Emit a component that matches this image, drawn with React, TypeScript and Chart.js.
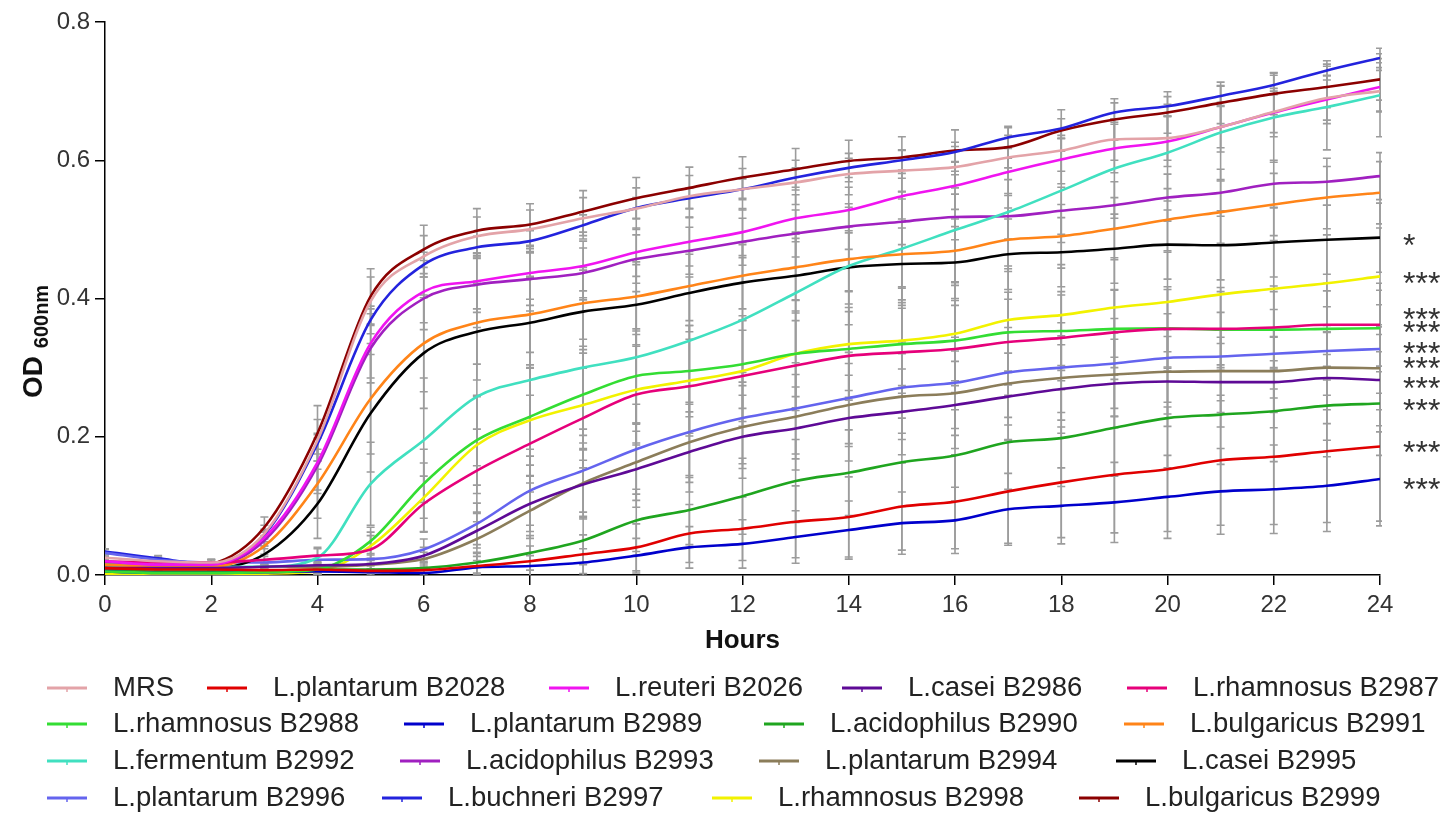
import React, { useEffect, useRef } from "react";
import { Chart, registerables } from "chart.js";

Chart.register(...registerables);

const FONT = '"Liberation Sans", Arial, Helvetica, sans-serif';

// ---- data ----
const hours = [0, 1, 2, 3, 4, 5, 6, 7, 8, 9, 10, 11, 12, 13, 14, 15, 16, 17, 18, 19, 20, 21, 22, 23, 24];

const seriesLabels = [
  "MRS",
  "L.plantarum B2028",
  "L.reuteri B2026",
  "L.casei B2986",
  "L.rhamnosus B2987",
  "L.rhamnosus B2988",
  "L.plantarum B2989",
  "L.acidophilus B2990",
  "L.bulgaricus B2991",
  "L.fermentum B2992",
  "L.acidophilus B2993",
  "L.plantarum B2994",
  "L.casei B2995",
  "L.plantarum B2996",
  "L.buchneri B2997",
  "L.rhamnosus B2998",
  "L.bulgaricus B2999",
];

const seriesColors = [
  "#E3A3A8",
  "#E00000",
  "#F014F0",
  "#5E0A96",
  "#E6007A",
  "#33DD33",
  "#0000CC",
  "#1FA51F",
  "#FF8418",
  "#40E0C0",
  "#A020C0",
  "#8B7D5A",
  "#000000",
  "#6464EE",
  "#2323DD",
  "#F2F200",
  "#8B0000",
];

const mrs = [0.025, 0.02, 0.018, 0.06, 0.195, 0.396, 0.461, 0.49, 0.5, 0.516, 0.53, 0.548, 0.558, 0.568, 0.58, 0.585, 0.59, 0.604, 0.614, 0.63, 0.632, 0.648, 0.67, 0.69, 0.7];
const b2028 = [0.01, 0.008, 0.008, 0.007, 0.008, 0.006, 0.007, 0.013, 0.02, 0.03, 0.04, 0.06, 0.067, 0.077, 0.084, 0.099, 0.106, 0.121, 0.134, 0.145, 0.153, 0.166, 0.171, 0.179, 0.186];
const b2026 = [0.02, 0.015, 0.015, 0.054, 0.163, 0.335, 0.41, 0.425, 0.437, 0.447, 0.467, 0.482, 0.496, 0.516, 0.528, 0.548, 0.563, 0.583, 0.601, 0.617, 0.627, 0.648, 0.669, 0.688, 0.706];
const b2986 = [0.01, 0.01, 0.01, 0.012, 0.014, 0.016, 0.028, 0.064, 0.103, 0.131, 0.153, 0.178, 0.2, 0.212, 0.227, 0.236, 0.246, 0.258, 0.269, 0.277, 0.28, 0.279, 0.279, 0.285, 0.282];
const b2987 = [0.02, 0.018, 0.018, 0.022, 0.028, 0.037, 0.103, 0.151, 0.19, 0.227, 0.261, 0.273, 0.288, 0.303, 0.317, 0.322, 0.327, 0.337, 0.343, 0.351, 0.356, 0.356, 0.358, 0.362, 0.362];
const b2988 = [0.005, 0.003, 0.003, 0.004, 0.008, 0.049, 0.132, 0.195, 0.229, 0.261, 0.288, 0.295, 0.305, 0.32, 0.327, 0.334, 0.339, 0.351, 0.353, 0.356, 0.357, 0.355, 0.355, 0.356, 0.357];
const b2989 = [0.005, 0.003, 0.003, 0.004, 0.005, 0.004, 0.003, 0.011, 0.013, 0.018, 0.028, 0.04, 0.045, 0.055, 0.065, 0.075, 0.079, 0.095, 0.1, 0.105, 0.113, 0.121, 0.124, 0.129, 0.139];
const b2990 = [0.008, 0.005, 0.005, 0.006, 0.008, 0.008, 0.01, 0.018, 0.032, 0.05, 0.079, 0.094, 0.114, 0.136, 0.148, 0.163, 0.173, 0.192, 0.198, 0.213, 0.227, 0.232, 0.237, 0.245, 0.248];
const b2991 = [0.015, 0.012, 0.012, 0.042, 0.132, 0.255, 0.335, 0.365, 0.377, 0.393, 0.403, 0.418, 0.433, 0.445, 0.457, 0.464, 0.469, 0.485, 0.49, 0.501, 0.514, 0.525, 0.536, 0.546, 0.553];
const b2992 = [0.015, 0.012, 0.012, 0.012, 0.025, 0.132, 0.195, 0.258, 0.282, 0.3, 0.315, 0.339, 0.369, 0.408, 0.447, 0.472, 0.499, 0.525, 0.556, 0.588, 0.611, 0.64, 0.662, 0.677, 0.694];
const b2993 = [0.018, 0.014, 0.014, 0.05, 0.158, 0.328, 0.4, 0.42, 0.428, 0.437, 0.457, 0.469, 0.482, 0.494, 0.504, 0.511, 0.518, 0.519, 0.527, 0.535, 0.546, 0.553, 0.566, 0.569, 0.577];
const b2994 = [0.012, 0.01, 0.01, 0.012, 0.012, 0.015, 0.023, 0.052, 0.093, 0.133, 0.163, 0.192, 0.214, 0.229, 0.246, 0.258, 0.263, 0.277, 0.285, 0.29, 0.294, 0.295, 0.295, 0.3, 0.299];
const b2995 = [0.012, 0.01, 0.01, 0.03, 0.103, 0.234, 0.321, 0.352, 0.365, 0.381, 0.391, 0.408, 0.423, 0.433, 0.445, 0.45, 0.452, 0.464, 0.467, 0.472, 0.478, 0.477, 0.481, 0.485, 0.488];
const b2996 = [0.032, 0.022, 0.018, 0.018, 0.022, 0.023, 0.037, 0.074, 0.122, 0.151, 0.182, 0.207, 0.227, 0.241, 0.256, 0.271, 0.278, 0.293, 0.3, 0.306, 0.314, 0.316, 0.32, 0.324, 0.327];
const b2997 = [0.034, 0.024, 0.016, 0.058, 0.19, 0.369, 0.449, 0.474, 0.483, 0.506, 0.531, 0.545, 0.558, 0.575, 0.589, 0.6, 0.612, 0.633, 0.646, 0.669, 0.678, 0.693, 0.709, 0.73, 0.748];
const b2998 = [0.002, 0.0, 0.0, 0.002, 0.005, 0.042, 0.112, 0.188, 0.224, 0.246, 0.268, 0.281, 0.295, 0.32, 0.334, 0.339, 0.349, 0.369, 0.376, 0.387, 0.395, 0.406, 0.414, 0.422, 0.432];
const b2999 = [0.008, 0.01, 0.016, 0.069, 0.205, 0.403, 0.471, 0.498, 0.507, 0.526, 0.545, 0.56, 0.575, 0.587, 0.599, 0.604, 0.614, 0.619, 0.643, 0.659, 0.669, 0.683, 0.696, 0.706, 0.717];

// standard deviations (error bars)
const mrsSd = [0.004, 0.004, 0.004, 0.012, 0.03, 0.035, 0.03, 0.028, 0.028, 0.03, 0.03, 0.03, 0.03, 0.032, 0.03, 0.03, 0.03, 0.032, 0.03, 0.03, 0.032, 0.03, 0.03, 0.032, 0.03];
const b2028Sd = [0.004, 0.004, 0.004, 0.005, 0.006, 0.008, 0.012, 0.018, 0.022, 0.028, 0.034, 0.042, 0.046, 0.052, 0.058, 0.063, 0.068, 0.075, 0.08, 0.084, 0.09, 0.094, 0.098, 0.103, 0.108];
const b2026Sd = [0.004, 0.004, 0.004, 0.012, 0.04, 0.05, 0.045, 0.04, 0.038, 0.036, 0.035, 0.035, 0.034, 0.034, 0.033, 0.033, 0.034, 0.034, 0.035, 0.035, 0.036, 0.036, 0.035, 0.035, 0.035];
const b2986Sd = [0.003, 0.003, 0.003, 0.004, 0.005, 0.008, 0.012, 0.025, 0.04, 0.05, 0.055, 0.058, 0.06, 0.06, 0.062, 0.062, 0.063, 0.063, 0.064, 0.064, 0.065, 0.065, 0.066, 0.066, 0.066];
const b2987Sd = [0.006, 0.005, 0.005, 0.008, 0.01, 0.02, 0.04, 0.06, 0.07, 0.072, 0.07, 0.068, 0.066, 0.065, 0.064, 0.064, 0.063, 0.062, 0.062, 0.062, 0.061, 0.06, 0.06, 0.06, 0.06];
const b2988Sd = [0.003, 0.003, 0.003, 0.004, 0.006, 0.02, 0.05, 0.065, 0.07, 0.07, 0.068, 0.066, 0.064, 0.062, 0.06, 0.06, 0.058, 0.058, 0.057, 0.056, 0.056, 0.055, 0.055, 0.055, 0.055];
const b2989Sd = [0.003, 0.003, 0.003, 0.003, 0.004, 0.004, 0.005, 0.01, 0.015, 0.02, 0.025, 0.03, 0.035, 0.038, 0.042, 0.045, 0.048, 0.052, 0.055, 0.058, 0.06, 0.062, 0.064, 0.066, 0.068];
const b2990Sd = [0.003, 0.003, 0.003, 0.004, 0.004, 0.005, 0.008, 0.015, 0.025, 0.035, 0.045, 0.05, 0.055, 0.06, 0.062, 0.064, 0.066, 0.068, 0.07, 0.07, 0.072, 0.072, 0.073, 0.074, 0.075];
const b2991Sd = [0.005, 0.004, 0.004, 0.015, 0.05, 0.08, 0.07, 0.06, 0.055, 0.052, 0.05, 0.05, 0.048, 0.048, 0.047, 0.047, 0.046, 0.046, 0.046, 0.045, 0.045, 0.045, 0.045, 0.045, 0.045];
const b2992Sd = [0.005, 0.004, 0.004, 0.004, 0.015, 0.06, 0.09, 0.1, 0.1, 0.098, 0.095, 0.092, 0.09, 0.088, 0.085, 0.082, 0.08, 0.078, 0.075, 0.072, 0.07, 0.068, 0.065, 0.062, 0.06];
const b2993Sd = [0.004, 0.004, 0.004, 0.012, 0.04, 0.05, 0.045, 0.04, 0.038, 0.036, 0.035, 0.034, 0.034, 0.034, 0.033, 0.033, 0.033, 0.033, 0.034, 0.034, 0.034, 0.034, 0.034, 0.034, 0.034];
const b2994Sd = [0.003, 0.003, 0.003, 0.003, 0.004, 0.006, 0.01, 0.025, 0.04, 0.05, 0.055, 0.058, 0.06, 0.061, 0.06, 0.062, 0.061, 0.06, 0.061, 0.06, 0.061, 0.06, 0.06, 0.061, 0.06];
const b2995Sd = [0.004, 0.004, 0.004, 0.012, 0.05, 0.085, 0.08, 0.07, 0.065, 0.06, 0.058, 0.056, 0.055, 0.054, 0.053, 0.052, 0.052, 0.051, 0.05, 0.05, 0.05, 0.05, 0.05, 0.05, 0.05];
const b2996Sd = [0.005, 0.004, 0.004, 0.004, 0.005, 0.008, 0.015, 0.03, 0.05, 0.06, 0.065, 0.066, 0.066, 0.066, 0.066, 0.066, 0.066, 0.065, 0.065, 0.065, 0.064, 0.064, 0.064, 0.064, 0.064];
const b2997Sd = [0.004, 0.004, 0.003, 0.006, 0.015, 0.02, 0.018, 0.016, 0.015, 0.015, 0.015, 0.015, 0.015, 0.014, 0.014, 0.014, 0.014, 0.014, 0.014, 0.014, 0.014, 0.014, 0.014, 0.014, 0.014];
const b2998Sd = [0.002, 0.002, 0.002, 0.002, 0.004, 0.02, 0.05, 0.07, 0.08, 0.08, 0.08, 0.08, 0.08, 0.078, 0.077, 0.076, 0.075, 0.074, 0.073, 0.072, 0.072, 0.071, 0.07, 0.07, 0.07];
const b2999Sd = [0.004, 0.004, 0.004, 0.015, 0.04, 0.04, 0.035, 0.032, 0.03, 0.03, 0.03, 0.03, 0.03, 0.03, 0.03, 0.03, 0.03, 0.03, 0.03, 0.03, 0.03, 0.03, 0.03, 0.03, 0.03];

const seriesValues = [mrs, b2028, b2026, b2986, b2987, b2988, b2989, b2990, b2991, b2992, b2993, b2994, b2995, b2996, b2997, b2998, b2999];
const seriesSd = [mrsSd, b2028Sd, b2026Sd, b2986Sd, b2987Sd, b2988Sd, b2989Sd, b2990Sd, b2991Sd, b2992Sd, b2993Sd, b2994Sd, b2995Sd, b2996Sd, b2997Sd, b2998Sd, b2999Sd];

// significance annotations at the right edge
const starValues = [0.488, 0.432, 0.38, 0.361, 0.332, 0.309, 0.28, 0.249, 0.188, 0.135];
const starLabels = ["*", "***", "***", "***", "***", "***", "***", "***", "***", "***"];

const xTicksStep = 2;
const yTicksStep = 0.2;

// legend layout: row index and text x position for each series
const legendRows = [0, 0, 0, 0, 0, 1, 1, 1, 1, 2, 2, 2, 2, 3, 3, 3, 3];
const legendTextX = [113, 273, 615, 908, 1193, 113, 470, 830, 1190, 113, 466, 825, 1182, 113, 448, 778, 1145];
const legendRowY = [688, 724, 761, 798];

export default function App() {
  const canvasRef = useRef<HTMLCanvasElement | null>(null);

  useEffect(() => {
    const canvas = canvasRef.current;
    if (!canvas) return;

    const datasets = seriesLabels.map((label, k) => ({
      label,
      data: hours.map((h, i) => ({ x: h, y: seriesValues[k][i] })),
      borderColor: seriesColors[k],
      backgroundColor: seriesColors[k],
      borderWidth: 2.6,
      pointRadius: 0,
      pointHoverRadius: 0,
      cubicInterpolationMode: "monotone" as const,
      fill: false,
    }));

    const errorBars = {
      id: "errorBars",
      beforeDatasetsDraw(chart: any) {
        const { ctx, chartArea, scales } = chart;
        const xs = scales.x;
        const ys = scales.y;
        ctx.save();
        ctx.beginPath();
        ctx.rect(chartArea.left, chartArea.top - 2, chartArea.right - chartArea.left + 2, chartArea.bottom - chartArea.top + 2);
        ctx.clip();
        ctx.strokeStyle = "#9C9C9C";
        ctx.lineWidth = 1.6;
        seriesValues.forEach((vals, k) => {
          const sds = seriesSd[k];
          vals.forEach((v, i) => {
            const x = xs.getPixelForValue(hours[i]);
            const yt = ys.getPixelForValue(v + sds[i]);
            const yb = ys.getPixelForValue(v - sds[i]);
            ctx.beginPath();
            ctx.moveTo(x, yt);
            ctx.lineTo(x, yb);
            ctx.moveTo(x - 4, yt);
            ctx.lineTo(x + 4, yt);
            ctx.moveTo(x - 4, yb);
            ctx.lineTo(x + 4, yb);
            ctx.stroke();
          });
        });
        ctx.restore();
      },
    };

    const decor = {
      id: "decor",
      afterDraw(chart: any) {
        const { ctx, chartArea, scales } = chart;
        const ys = scales.y;
        ctx.save();

        // x axis title
        ctx.fillStyle = "#111";
        ctx.font = `bold 26px ${FONT}`;
        ctx.textAlign = "center";
        ctx.textBaseline = "middle";
        ctx.fillText("Hours", (chartArea.left + chartArea.right) / 2, 641);

        // y axis title with subscript
        ctx.save();
        ctx.translate(42, 398);
        ctx.rotate(-Math.PI / 2);
        ctx.textAlign = "left";
        ctx.textBaseline = "alphabetic";
        ctx.font = `bold 28px ${FONT}`;
        ctx.fillText("OD", 0, 0);
        const w = ctx.measureText("OD ").width;
        ctx.font = `bold 20px ${FONT}`;
        ctx.fillText("600nm", w, 6);
        ctx.restore();

        // significance stars
        ctx.fillStyle = "#333";
        ctx.font = `32px ${FONT}`;
        ctx.textAlign = "left";
        ctx.textBaseline = "alphabetic";
        starValues.forEach((v, i) => {
          const y = ys.getPixelForValue(v);
          ctx.fillText(starLabels[i], 1403, y + 18);
        });

        // legend
        ctx.font = `27.5px ${FONT}`;
        ctx.textBaseline = "middle";
        seriesLabels.forEach((label, k) => {
          const y = legendRowY[legendRows[k]];
          const tx = legendTextX[k];
          const sx = tx - 66;
          ctx.strokeStyle = seriesColors[k];
          ctx.lineWidth = 3;
          ctx.beginPath();
          ctx.moveTo(sx, y);
          ctx.lineTo(sx + 40, y);
          ctx.stroke();
          ctx.lineWidth = 1.5;
          ctx.beginPath();
          ctx.moveTo(sx + 20, y);
          ctx.lineTo(sx + 20, y + 4);
          ctx.stroke();
          ctx.fillStyle = "#222";
          ctx.fillText(label, tx, y);
        });

        ctx.restore();
      },
    };

    const chart = new Chart(canvas, {
      type: "line",
      data: { datasets },
      options: {
        animation: false,
        responsive: true,
        maintainAspectRatio: false,
        layout: { padding: { left: 0, right: 67, top: 22, bottom: 195 } },
        plugins: {
          legend: { display: false },
          tooltip: { enabled: false },
        },
        scales: {
          x: {
            type: "linear",
            min: 0,
            max: 24,
            ticks: {
              stepSize: xTicksStep,
              color: "#333",
              font: { family: FONT, size: 24 },
              padding: 6,
              maxRotation: 0,
            },
            grid: { drawOnChartArea: false, drawTicks: true, tickLength: 10, color: "#000", lineWidth: 1.5 },
            border: { display: true, color: "#000", width: 1.5 },
            afterFit: (s: any) => {
              s.height = 60;
            },
          },
          y: {
            type: "linear",
            min: 0,
            max: 0.8,
            ticks: {
              stepSize: yTicksStep,
              color: "#333",
              font: { family: FONT, size: 24 },
              padding: 5,
              callback: (v: any) => Number(v).toFixed(1),
            },
            grid: { drawOnChartArea: false, drawTicks: true, tickLength: 10, color: "#000", lineWidth: 1.5 },
            border: { display: true, color: "#000", width: 1.5 },
            afterFit: (s: any) => {
              s.width = 105;
            },
          },
        },
      },
      plugins: [errorBars, decor],
    } as any);

    return () => chart.destroy();
  }, []);

  return (
    <div style={{ position: "absolute", left: 0, top: 0, width: 1447, height: 830, background: "#fff" }}>
      <canvas ref={canvasRef} />
    </div>
  );
}
